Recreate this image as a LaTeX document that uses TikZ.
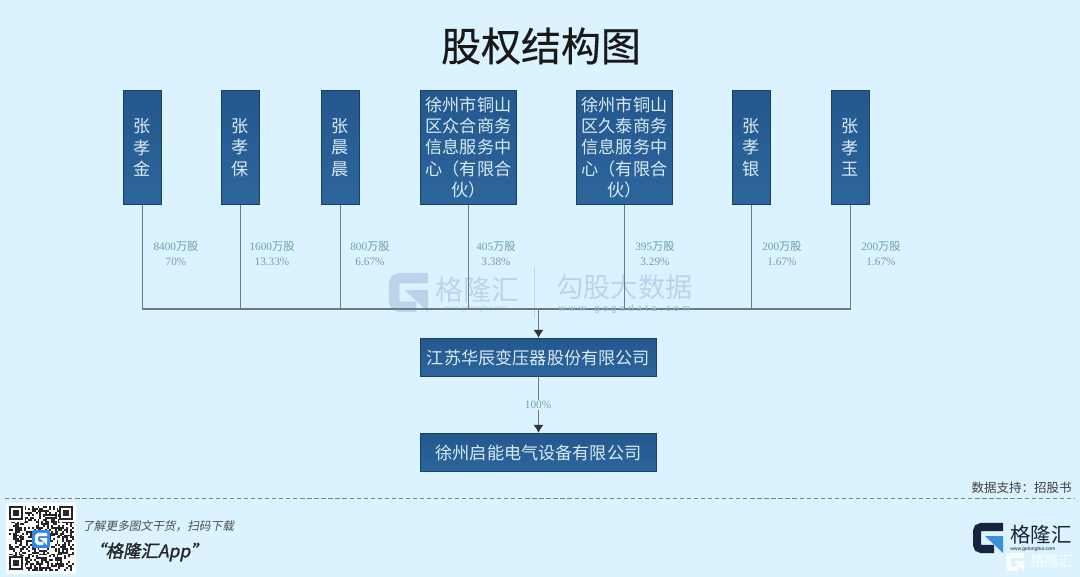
\documentclass[tikz,border=0pt]{standalone}
\usepackage{fontspec}
\usepackage{xcolor}
\setmainfont{Liberation Serif}
\newfontfamily\cjk{Noto Sans CJK SC}
\newfontfamily\cjkmed[FakeBold=0.5]{Noto Sans CJK SC}
\newfontfamily\cjkit[FakeSlant=0.2]{Noto Sans CJK SC}
\newfontfamily\appfont[FakeSlant=0.2,FakeBold=1.5]{Noto Sans CJK SC}
\newfontfamily\webfont[LetterSpace=36]{Liberation Sans}
\newfontfamily\smallweb{Liberation Sans}
\usetikzlibrary{arrows.meta,positioning}
\definecolor{pagebg}{HTML}{DBF3FF}
\definecolor{boxtop}{HTML}{23588E}
\definecolor{boxbot}{HTML}{2C659C}
\definecolor{boxline}{HTML}{1F3F5E}
\definecolor{boxtext}{HTML}{D9EAF3}
\definecolor{sharetext}{HTML}{6F9DB4}
\definecolor{linkgray}{HTML}{6E7A82}
\definecolor{markblue}{HTML}{BAD4EC}
\definecolor{markweb}{HTML}{94B9E2}
\definecolor{logonavy}{HTML}{18233F}
\definecolor{logoblue}{HTML}{3D8FDB}
\definecolor{qrblue}{HTML}{2F86EE}
\tikzset{
  holder/.style={draw=boxline, line width=0.9pt, top color=boxtop, bottom color=boxbot, inner sep=0pt,
    text=boxtext, align=center, minimum height=2.85cm, font=\cjk\fontsize{12.2}{15.2}\selectfont},
  person/.style={holder, minimum width=0.95cm},
  firm/.style={holder, minimum width=2.4cm},
  company/.style={holder, minimum width=5.9cm, minimum height=0.95cm},
  share/.style={text=sharetext, align=center, inner sep=0pt, font=\fontsize{8}{10.7}\selectfont},
  link/.style={draw=linkgray, line width=1.2pt},
  arrow/.style={link, -{Latex[length=2mm,width=2.6mm,color=black!80]}},
  markword/.style={text=markblue, inner sep=0pt, font=\cjk\fontsize{20}{20}\selectfont},
}
\newcommand{\gu}[1]{#1{\cjk 万股}}
% G mark, 30 px wide at scale 1
\newcommand{\gmark}[5]{%
  \begin{scope}[shift={(#1,#2)},scale=#3]
    \draw[#4, line width=#3*5.7pt, rounded corners=#3*3pt] (30,4) -- (4,4) -- (4,26) -- (21,26);
    \fill[#5] (12,13) -- (30,13) -- (30,30) -- cycle;
  \end{scope}}

\begin{document}
\begin{tikzpicture}[x=0.025cm,y=-0.025cm]
\useasboundingbox[fill=pagebg] (0,0) rectangle (1080,577);

% watermark
\gmark{389}{273}{1.3}{markblue}{markblue}
\node[markword, anchor=west] (wmname) at (435,290) {格隆汇};
\node[text=markblue, inner sep=0pt, font=\smallweb\fontsize{5.2}{6}\selectfont] (wmsite) at (476,309) {www.gelonghui.com};
\draw[markblue, line width=0.5pt] (534,268) -- (534,318);
\node[markword, anchor=west, font=\cjk\fontsize{19.4}{20}\selectfont] (wmdata) at (556,287) {勾股大数据};

% shareholders
\node[person] (jin) at (142.5,147.5) {张\\孝\\金};
\node[person] (bao) at (240.5,147.5) {张\\孝\\保};
\node[person] (chen) at (340.5,147.5) {张\\晨\\晨};
\node[firm] (zhonghe) at (468.5,147.5) {徐州市铜山\\区众合商务\\信息服务中\\心（有限合\\伙）};
\node[firm] (jiutai) at (624.5,147.5) {徐州市铜山\\区久泰商务\\信息服务中\\心（有限合\\伙）};
\node[person] (yin) at (751.5,147.5) {张\\孝\\银};
\node[person] (yu) at (850.5,147.5) {张\\孝\\玉};

% companies
\node[company] (huachen) at (538.5,357.5) {江苏华辰变压器股份有限公司};
\node[company] (qineng) at (538.5,452.5) {徐州启能电气设备有限公司};
\coordinate (bus) at (538.5,309);

% links
\foreach \who in {jin,bao,chen,zhonghe,jiutai,yin,yu}
  \draw[link] (\who.south) |- (bus);
\draw[arrow] (bus) -- (huachen.north);
\draw[arrow] (huachen.south) -- (qineng.north);

\node[text=markweb, inner sep=0pt, font=\webfont\fontsize{6.6}{7}\selectfont] (wmgoga) at (624.5,309) {www.gogadata.com};
\node[inner sep=0pt, font=\cjkmed\fontsize{28.4}{30}\selectfont, text=black!90] (title) at (541,46) {股权结构图};

% shares
\node[share] (s1) at (176,254) {\gu{8400}\\70\%};
\node[share] (s2) at (272,254) {\gu{1600}\\13.33\%};
\node[share] (s3) at (370,254) {\gu{800}\\6.67\%};
\node[share] (s4) at (496,254) {\gu{405}\\3.38\%};
\node[share] (s5) at (655,254) {\gu{395}\\3.29\%};
\node[share] (s6) at (782,254) {\gu{200}\\1.67\%};
\node[share] (s7) at (881,254) {\gu{200}\\1.67\%};
\node[share, fill=pagebg, inner ysep=1pt] (s8) at (538,405) {100\%};

% footer
\node[anchor=east, inner sep=0pt, text=black!75, font=\cjk\fontsize{8.9}{10}\selectfont] (source) at (1072,488) {数据支持：招股书};
\coordinate (ruleL) at (5,498);
\coordinate (ruleR) at (1075,498);
\draw[black!50, densely dashed, line width=0.5pt] (ruleL) -- (ruleR);

% qr code
\fill[white, rounded corners=1pt] (6,503) rectangle (76,574);
\pgfmathsetseed{4217}
\foreach \i in {0,...,33}
  \foreach \j in {0,...,33}{
    \pgfmathparse{rnd<0.5 ? 1 : 0}
    \ifnum\pgfmathresult=1
      \fill[black!85] ({9+1.9*\i},{506+1.9*\j}) rectangle ++(1.95,1.95);
    \fi
  }
\foreach \cx/\cy in {9/506,59/506,9/556}{
  \fill[white] (\cx,\cy) rectangle ++(16,16);
  \fill[black!85] (\cx,\cy) rectangle ++(14,14);
  \fill[white] ({\cx+2},{\cy+2}) rectangle ++(10,10);
  \fill[black!85] ({\cx+4},{\cy+4}) rectangle ++(6,6);
}
\fill[qrblue, rounded corners=1.5pt] (32,530) rectangle (50,548);
\gmark{35}{533}{0.4}{white}{white}

\node[anchor=west, inner sep=0pt, text=black!70, font=\cjkit\fontsize{8.3}{10}\selectfont] (slogan) at (82,526) {了解更多图文干货，扫码下载};
\node[anchor=west, inner sep=0pt, text=black!85, font=\appfont\fontsize{12.4}{13}\selectfont] (app) at (88,552) {“格隆汇App”};

% brand
\gmark{973}{523}{1}{logonavy}{logoblue}
\node[anchor=west, inner sep=0pt, text=logonavy, font=\cjk\fontsize{14.6}{16}\selectfont] (brand) at (1010,535) {格隆汇};
\node[anchor=west, inner sep=0pt, text=logonavy, font=\smallweb\fontsize{3.6}{4}\selectfont] (brandsite) at (1010,549) {www.gelonghui.com};
\gmark{1006}{553}{0.6}{white!85!pagebg}{white!85!pagebg}
\node[anchor=west, inner sep=0pt, text=white!85!pagebg, font=\cjk\fontsize{10.2}{11}\selectfont] (brandwm) at (1030,561) {格隆汇};
\end{tikzpicture}
\end{document}
